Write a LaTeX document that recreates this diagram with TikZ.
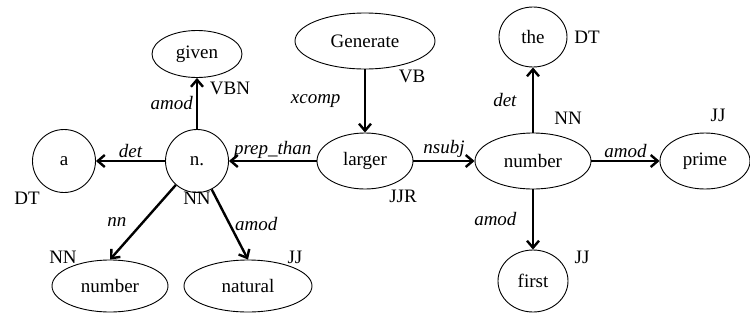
\documentclass[tikz,border=0pt]{standalone}
\usepackage{fontspec}
\setmainfont{Liberation Serif}
\usepackage{tikz}
\usetikzlibrary{shapes.geometric,arrows.meta,positioning}
\newcommand\wordfont{\fontsize{19}{22}\selectfont}

\begin{document}
\begin{tikzpicture}[x=1pt,y=-1pt,on grid,
      word/.style={draw,ellipse,line width=0.9pt,inner sep=0pt,font=\wordfont},
      round/.style={draw,circle,line width=0.9pt,inner sep=0pt,minimum size=63pt,font=\wordfont},
      tag/.style={font=\wordfont,inner sep=0pt},
      lbl/.style={font=\wordfont\itshape,midway},
      dep/.style={-{Straight Barb[length=7pt,width=12pt]},line width=2.4pt},
  ]
  \useasboundingbox (0,0) rectangle (750,322);

  % Words
  \node[word,minimum width=96pt,minimum height=56pt] (larger) at (365,161) {larger};
  \node[word,minimum width=140pt,minimum height=56pt,above=120pt of larger] (generate) {Generate};
  \node[round,left=168pt of larger] (nn) {n.};
  \node[round,left=133pt of nn] (det) {a};
  \node[word,minimum width=90pt,minimum height=47pt,above=107pt of nn] (given) {given};
  \node[word,minimum width=116pt,minimum height=52pt,below left=125pt and 87pt of nn] (nnmod) {number};
  \node[word,minimum width=128pt,minimum height=52pt,below right=125pt and 51pt of nn] (natural) {natural};
  \node[word,minimum width=116pt,minimum height=56pt,right=168pt of larger] (subj) {number};
  \node[word,minimum width=68pt,minimum height=60pt,above=124pt of subj] (the) {the};
  \node[word,minimum width=90pt,minimum height=56pt,right=172pt of subj] (prime) {prime};
  \node[word,minimum width=70pt,minimum height=62pt,below=120pt of subj] (first) {first};

  % POS tags
  \node[tag,below left=37pt and 37pt of det] (tdet) {DT};
  \node[tag,below=37pt of nn] (tnn) {NN};
  \node[tag,below right=34pt and 33pt of given] (tgiven) {VBN};
  \node[tag,above left=29pt and 47pt of nnmod] (tnnmod) {NN};
  \node[tag,above right=29pt and 47pt of natural] (tnatural) {JJ};
  \node[tag,below right=35pt and 47pt of generate] (tgenerate) {VB};
  \node[tag,below right=35pt and 38pt of larger] (tlarger) {JJR};
  \node[tag,above right=43pt and 35pt of subj] (tsubj) {NN};
  \node[tag,right=54pt of the] (tthe) {DT};
  \node[tag,above right=46pt and 13pt of prime] (tprime) {JJ};
  \node[tag,above right=24pt and 49pt of first] (tfirst) {JJ};

  % Dependencies
  \draw[dep] (generate) -- node[lbl,left=20pt] {xcomp} (larger);
  \draw[dep] (larger) -- node[lbl,above,inner sep=1pt] {prep\_than} (nn);
  \draw[dep] (nn) -- node[lbl,above,inner sep=2pt] {det} (det);
  \draw[dep] (nn) -- node[lbl,left,inner sep=3pt] {amod} (given);
  \draw[dep] (nn) -- node[lbl,left=12pt] {nn} (nnmod.north);
  \draw[dep] (nn) -- node[lbl,right,inner sep=4pt] {amod} (natural.north);
  \draw[dep] (larger) -- node[lbl,above,inner sep=2pt] {nsubj} (subj);
  \draw[dep] (subj) -- node[lbl,left=12pt] {det} (the);
  \draw[dep] (subj) -- node[lbl,above,inner sep=2pt] {amod} (prime);
  \draw[dep] (subj) -- node[lbl,left=12pt] {amod} (first);
  \end{tikzpicture}
\end{document}
